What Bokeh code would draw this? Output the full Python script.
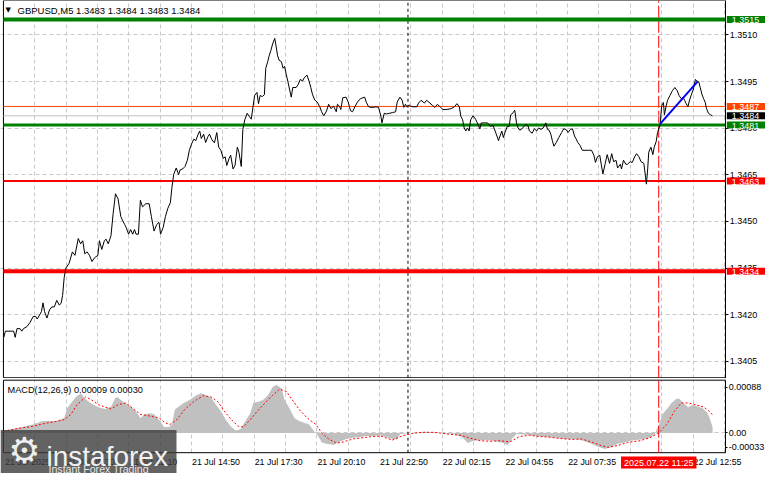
from bokeh.plotting import figure
from bokeh.models import (Range1d, FixedTicker, Label, BoxAnnotation,
                          PrintfTickFormatter, Grid)
from bokeh.layouts import column
from bokeh.embed import file_html
from bokeh.resources import INLINE

FONT = "Liberation Sans"
FS = "9px"

# ---------------- data ----------------
SYMBOL_TITLE = "GBPUSD,M5  1.3483 1.3484 1.3483 1.3484"
MACD_TITLE = "MACD(12,26,9) 0.00009 0.00030"

BAR_X = [
    0.2, 1.0, 5.2, 6.0, 6.9, 8.5, 9.4, 10.2, 11.9, 13.5,
    15.2, 16.5, 17.2, 18.2, 19.4, 20.2, 21.0, 22.2, 23.5, 24.7,
    26.0, 27.2, 28.5, 29.4, 30.2, 31.0, 31.9, 33.5, 35.2, 36.5,
    38.2, 39.4, 40.5, 41.5, 42.7, 43.9, 45.2, 46.5, 48.2, 49.0,
    50.2, 51.5, 52.4, 53.5, 54.9, 56.0, 57.2, 58.5, 59.9, 60.7,
    61.9, 62.7, 63.9, 64.9, 66.0, 66.9, 67.7, 68.9, 69.9, 71.0,
    72.7, 74.4, 75.5, 76.9, 78.2, 79.4, 80.2, 81.5, 82.7, 83.9,
    85.2, 86.0, 86.9, 88.2, 89.4, 90.2, 91.5, 92.7, 93.9, 94.9,
    96.0, 97.2, 98.2, 99.4, 100.2, 101.0, 102.2, 103.2, 104.4, 105.2,
    106.4, 107.7, 108.9, 109.9, 111.0, 112.2, 113.2, 114.0, 115.2, 116.0,
    117.2, 118.2, 119.4, 120.2, 121.4, 122.2, 123.2, 124.4, 125.5, 126.5,
    127.4, 128.2, 129.4, 130.2, 131.0, 132.2, 133.2, 133.9, 134.9, 135.5,
    136.5, 137.4, 138.5, 139.0, 139.9, 140.7, 141.9, 142.7, 143.5, 144.4,
    145.2, 146.9, 147.7, 149.4, 150.5, 151.5, 152.7, 153.5, 154.9, 156.0,
    156.9, 157.7, 158.9, 160.2, 161.5, 162.4, 163.5, 164.9, 166.0, 167.2,
    168.5, 169.9, 170.5, 171.5, 172.2, 173.2, 174.9, 176.0, 177.2, 178.2,
    179.4, 180.7, 182.2, 183.5, 184.4, 185.2, 186.4, 187.7, 188.9, 190.2,
    191.5, 192.7, 193.2, 194.4, 195.5, 196.9, 198.5, 200.2, 201.0, 202.4,
    203.5, 204.4, 205.2, 206.0, 207.2, 208.5, 211.0, 211.9, 213.2, 214.9,
    216.0, 217.7, 218.9, 220.2, 221.5, 223.2, 224.4, 226.0, 228.5, 230.2,
    231.5, 232.7, 233.5, 234.4, 235.2, 236.0, 236.9, 237.7, 238.5, 239.7,
    241.0, 241.9, 243.2, 243.9, 245.2, 247.2, 248.5, 249.9, 251.0, 251.9,
    252.7, 253.5, 254.4, 255.2, 256.0, 257.2, 258.2, 258.9, 260.2, 261.0,
    261.9, 262.7, 263.5, 264.4, 266.5, 267.7, 268.5, 269.9, 271.0, 272.2,
    273.2, 274.4, 275.5, 276.9, 277.7, 278.5, 279.4, 280.2, 281.0, 282.2,
    283.5, 284.9, 286.0, 287.2, 288.2, 289.4, 290.5, 291.5, 292.2, 293.2,
    294.4, 295.5, 296.9, 298.5, 300.2, 301.4, 302.2, 303.2, 304.4, 305.2,
    306.0, 307.2, 308.2, 309.4, 310.5, 311.5, 312.7, 313.5, 314.9, 315.5,
    316.5, 317.7, 318.5, 319.9, 321.0, 322.2, 323.2, 324.4, 325.5, 326.9,
    327.7, 328.2, 328.9, 329.4, 330.5, 331.5, 332.2, 333.2, 333.9, 335.2,
    336.0, 336.9, 337.4, 338.2, 339.0, 340.2, 341.5, 342.7, 343.9, 344.9,
    346.0, 346.9, 347.7, 348.5, 349.4, 350.2, 351.0, 352.2, 353.2, 353.9,
    354.9, 355.7, 356.5, 357.4, 358.2, 358.9, 359.9, 361.0, 361.9,
]
CLOSE = [
    1.34127, 1.34147, 1.34147, 1.34127, 1.34155, 1.34155, 1.34147, 1.34155, 1.34161, 1.34174,
    1.34194, 1.34194, 1.34186, 1.34196, 1.34210, 1.34238, 1.34210, 1.34189, 1.34215, 1.34225,
    1.34225, 1.34246, 1.34231, 1.34236, 1.34262, 1.34319, 1.34350, 1.34365, 1.34402, 1.34391,
    1.34445, 1.34428, 1.34438, 1.34396, 1.34402, 1.34391, 1.34371, 1.34383, 1.34391, 1.34438,
    1.34410, 1.34438, 1.34443, 1.34428, 1.34454, 1.34526, 1.34589, 1.34573, 1.34516, 1.34505,
    1.34490, 1.34480, 1.34459, 1.34474, 1.34459, 1.34474, 1.34459, 1.34459, 1.34568, 1.34547,
    1.34557, 1.34557, 1.34516, 1.34469, 1.34490, 1.34497, 1.34459, 1.34480, 1.34516, 1.34542,
    1.34560, 1.34609, 1.34651, 1.34672, 1.34651, 1.34666, 1.34669, 1.34677, 1.34697, 1.34729,
    1.34749, 1.34765, 1.34760, 1.34781, 1.34791, 1.34767, 1.34781, 1.34754, 1.34773, 1.34781,
    1.34763, 1.34753, 1.34786, 1.34739, 1.34729, 1.34703, 1.34708, 1.34680, 1.34703, 1.34713,
    1.34669, 1.34680, 1.34739, 1.34723, 1.34677, 1.34796, 1.34827, 1.34848, 1.34838, 1.34829,
    1.34869, 1.34905, 1.34915, 1.34879, 1.34905, 1.34902, 1.34908, 1.34993, 1.35014, 1.35030,
    1.35050, 1.35071, 1.35089, 1.35071, 1.35035, 1.35019, 1.35014, 1.34993, 1.34999, 1.34972,
    1.34950, 1.34900, 1.34931, 1.34931, 1.34941, 1.34957, 1.34952, 1.34962, 1.34971, 1.34952,
    1.34931, 1.34910, 1.34891, 1.34884, 1.34869, 1.34853, 1.34840, 1.34855, 1.34877, 1.34863,
    1.34871, 1.34853, 1.34877, 1.34871, 1.34860, 1.34898, 1.34900, 1.34884, 1.34856, 1.34853,
    1.34869, 1.34884, 1.34895, 1.34898, 1.34900, 1.34884, 1.34869, 1.34867, 1.34867, 1.34869,
    1.34867, 1.34838, 1.34817, 1.34848, 1.34846, 1.34848, 1.34850, 1.34853, 1.34884, 1.34900,
    1.34890, 1.34867, 1.34877, 1.34869, 1.34874, 1.34869, 1.34869, 1.34881, 1.34890, 1.34881,
    1.34890, 1.34881, 1.34874, 1.34867, 1.34877, 1.34867, 1.34860, 1.34860, 1.34863, 1.34869,
    1.34879, 1.34869, 1.34838, 1.34827, 1.34801, 1.34791, 1.34801, 1.34791, 1.34827, 1.34840,
    1.34829, 1.34817, 1.34798, 1.34817, 1.34817, 1.34817, 1.34806, 1.34809, 1.34791, 1.34775,
    1.34760, 1.34775, 1.34791, 1.34770, 1.34786, 1.34806, 1.34806, 1.34843, 1.34850, 1.34858,
    1.34817, 1.34801, 1.34794, 1.34796, 1.34812, 1.34809, 1.34791, 1.34784, 1.34798, 1.34791,
    1.34801, 1.34796, 1.34801, 1.34817, 1.34796, 1.34794, 1.34781, 1.34760, 1.34742, 1.34754,
    1.34770, 1.34786, 1.34798, 1.34796, 1.34786, 1.34796, 1.34798, 1.34775, 1.34767, 1.34754,
    1.34744, 1.34729, 1.34729, 1.34729, 1.34729, 1.34713, 1.34690, 1.34708, 1.34713, 1.34682,
    1.34653, 1.34687, 1.34715, 1.34687, 1.34718, 1.34692, 1.34697, 1.34672, 1.34684, 1.34669,
    1.34697, 1.34684, 1.34684, 1.34692, 1.34690, 1.34708, 1.34718, 1.34708, 1.34692, 1.34687,
    1.34646, 1.34620, 1.34672, 1.34723, 1.34739, 1.34715, 1.34739, 1.34757, 1.34786, 1.34812,
    1.34872, 1.34883, 1.34843, 1.34869, 1.34890, 1.34905, 1.34921, 1.34931, 1.34921, 1.34905,
    1.34895, 1.34900, 1.34890, 1.34879, 1.34869, 1.34890, 1.34905, 1.34926, 1.34957, 1.34952,
    1.34950, 1.34931, 1.34910, 1.34895, 1.34884, 1.34863, 1.34848, 1.34843, 1.34840,
]

MACD_X = [
    0.2, 8.5, 15, 20, 27, 31, 32.5, 34.5, 37, 39.5, 41.5, 43.5, 46, 48.5, 52, 55, 57, 58, 60, 62,
    65, 67.5, 70, 72, 74.5, 77, 78.5, 80, 82, 84.5, 86, 87.5, 89.5, 92, 95, 98.5, 101, 103.5, 106, 108.5,
    111, 113.5, 116, 118.5, 121, 123.5, 126, 127.5, 130, 132.5, 135, 137.5, 139.5, 142, 143.5, 146, 148.5, 151, 153.5, 156,
    158.5, 160, 162.5, 165, 168.5, 172, 175, 178.5, 182, 185, 188.5, 192.5, 198.5, 201, 202.5, 206, 210, 215, 220, 225,
    230, 234.5, 237, 240, 245, 250, 255, 257.5, 260, 262, 267, 272, 277, 282, 287, 292, 296, 300, 303.5, 307,
    310, 313.5, 317, 320, 323.5, 327, 330, 332.5, 335, 336.5, 338.5, 341, 343.5, 345, 347, 349.5, 352, 354.5, 357, 359.5,
    361, 362,
]
MACD_MAIN = [
    0.00003, 0.00009, 0.00014, 0.00020, 0.00020, 0.00025, 0.00041, 0.00050, 0.00060, 0.00066,
    0.00058, 0.00052, 0.00047, 0.00043, 0.00040, 0.00044, 0.00058, 0.00060, 0.00055, 0.00050,
    0.00044, 0.00036, 0.00025, 0.00031, 0.00033, 0.00031, 0.00025, 0.00020, 0.00010, 0.00010,
    0.00014, 0.00039, 0.00044, 0.00050, 0.00055, 0.00063, 0.00066, 0.00063, 0.00059, 0.00047,
    0.00036, 0.00022, 0.00011, 0.00004, 0.00006, 0.00020, 0.00033, 0.00050, 0.00052, 0.00055,
    0.00063, 0.00077, 0.00080, 0.00074, 0.00055, 0.00041, 0.00025, 0.00020, 0.00017, 0.00014,
    0.00003, -0.00002, -0.00016, -0.00018, -0.00020, -0.00014, -0.00010, -0.00008, -0.00007, -0.00005,
    -0.00005, -0.00004, -0.00010, -0.00011, -0.00002, -0.00001, 0.00000, 0.00002, 0.00001, -0.00001,
    -0.00002, -0.00008, -0.00017, -0.00013, -0.00012, -0.00013, -0.00017, -0.00020, -0.00008, -0.00002,
    -0.00003, -0.00005, -0.00007, -0.00008, -0.00010, -0.00010, -0.00013, -0.00018, -0.00023, -0.00027,
    -0.00024, -0.00018, -0.00016, -0.00013, -0.00012, -0.00010, -0.00008, -0.00002, 0.00017, 0.00032,
    0.00039, 0.00050, 0.00057, 0.00057, 0.00050, 0.00043, 0.00047, 0.00044, 0.00041, 0.00033,
    0.00020, 0.00009,
]
SIGNAL_X = [
    0, 8.5, 15, 20, 25, 31, 34.5, 37.5, 42, 45, 48.5, 52, 55, 58.5, 62.5, 66, 70, 75, 79.5, 82.5,
    85, 88.5, 92.5, 97, 102, 106, 109.5, 113.5, 117, 120, 122.5, 126, 129.5, 133.5, 137.5, 141, 144.5, 147.5, 151, 155,
    159.5, 162.5, 166, 170, 173.5, 178.5, 183.5, 188.5, 192.5, 198.5, 203.5, 208.5, 213.5, 220, 227, 233.5, 238.5, 243.5, 248.5, 253.5,
    258.5, 263.5, 268.5, 273.5, 278.5, 283.5, 290, 295, 300, 305, 308.5, 313.5, 318.5, 325, 330, 334.5, 338.5, 342.5, 346, 349.5,
    353.5, 357.5, 360, 362,
]
MACD_SIGNAL = [
    0.00003, 0.00008, 0.00011, 0.00015, 0.00018, 0.00022, 0.00031, 0.00047, 0.00060, 0.00055,
    0.00047, 0.00043, 0.00040, 0.00047, 0.00050, 0.00041, 0.00031, 0.00028, 0.00025, 0.00017,
    0.00014, 0.00022, 0.00039, 0.00052, 0.00062, 0.00060, 0.00052, 0.00033, 0.00020, 0.00011,
    0.00010, 0.00022, 0.00036, 0.00050, 0.00063, 0.00073, 0.00069, 0.00055, 0.00039, 0.00025,
    0.00014, 0.00000, -0.00010, -0.00017, -0.00015, -0.00010, -0.00008, -0.00006, -0.00005, -0.00012,
    -0.00005, -0.00001, 0.00001, 0.00001, -0.00002, -0.00004, -0.00009, -0.00013, -0.00014, -0.00013,
    -0.00015, -0.00006, -0.00004, -0.00006, -0.00007, -0.00009, -0.00011, -0.00010, -0.00015, -0.00021,
    -0.00024, -0.00021, -0.00016, -0.00013, -0.00008, 0.00000, 0.00014, 0.00036, 0.00050, 0.00050,
    0.00047, 0.00043, 0.00037, 0.00030,
]

PRICE_TICKS = [1.3405, 1.3420, 1.3435, 1.3450, 1.3465, 1.3480, 1.3495, 1.3510]
LEVEL_PRICES = [1.3515, 1.3487, 1.3484, 1.3481, 1.3463, 1.3434]
LEVEL_COLORS = ["#008000", "#FF4500", "#C0C0C0", "#008000", "#FF0000", "#FF0000"]
LEVEL_WIDTHS = [4, 1, 1, 3, 2, 4]
TAG_PRICES = [1.3515, 1.3487, 1.3481, 1.3463, 1.3434, 1.3484]
TAG_COLORS = ["#008000", "#FF4500", "#008000", "#FF0000", "#FF0000", "#000000"]

TREND_X = [335.2, 354.3]
TREND_Y = [1.34814, 1.34950]

TIME_TICK_BARS = [0, 32, 64, 96, 128, 160, 192, 224, 256, 288, 320, 352]
TIME_LABELS = ["21 Jul 2025", "21 Jul 09:30", "21 Jul 12:10", "21 Jul 14:50",
               "21 Jul 17:30", "21 Jul 20:10", "21 Jul 22:50", "22 Jul 02:15",
               "22 Jul 04:55", "22 Jul 07:35", "22 Jul 10:15", "22 Jul 12:55"]
GRID_BARS = list(range(16, 369, 16))
DAY_SEPARATOR_BAR = 206.5
CURRENT_TIME_BAR = 334.5
CURRENT_TIME_LABEL = "2025.07.22 11:25"

MACD_LOW, MACD_HIGH = -0.00033, 0.00088
MACD_TICK_LABELS = ["-0.00033", "0.00", "0.00088"]

# ---------------- layout ----------------
W = 765
X0, X1 = -1.5, 389.0          # bar span across the whole canvas width
SCALE_X = 368.75              # bar position of the price scale line
PRICE_LOW, PRICE_HIGH = 1.339946, 1.35211
PRICE_BOTTOM = 1.33997        # bottom edge of the price window
GRID_COLOR = "#C8C8C8"
x_range = Range1d(X0, X1)


def common(p):
    p.background_fill_color = "white"
    p.border_fill_color = "white"
    p.outline_line_color = None
    p.grid.visible = False
    p.add_layout(Grid(dimension=0, ticker=FixedTicker(ticks=GRID_BARS),
                      grid_line_color=GRID_COLOR, grid_line_dash="4 3"))


def style_yaxis(ax, tick_out):
    ax.fixed_location = SCALE_X
    ax.axis_line_color = "black"
    ax.major_tick_line_color = "black"
    ax.major_tick_out = tick_out
    ax.major_tick_in = 0
    ax.minor_tick_line_color = None
    ax.major_label_text_font = FONT
    ax.major_label_text_font_size = FS
    ax.major_label_text_color = "black"
    ax.major_label_standoff = 1


def cover(p, **kw):
    p.add_layout(BoxAnnotation(fill_color="white", fill_alpha=1, line_color=None,
                               level="underlay", **kw))


def frame_lines(p, lo, hi):
    # window border (left, bottom/top) and the two vertical markers
    p.segment(x0=[0, 0, 0], y0=[lo, lo, hi], x1=[0, SCALE_X, SCALE_X], y1=[hi, lo, hi],
              line_color="black", line_width=1)
    p.segment(x0=[DAY_SEPARATOR_BAR], y0=[lo], x1=[DAY_SEPARATOR_BAR], y1=[hi],
              line_color="black", line_dash="3 3", line_width=1)
    p.segment(x0=[CURRENT_TIME_BAR], y0=[lo], x1=[CURRENT_TIME_BAR], y1=[hi],
              line_color="#FF0000", line_dash="12 3", line_width=1)


# ---- main price window ----
p1 = figure(frame_width=W, frame_height=378, x_range=x_range,
            y_range=Range1d(PRICE_LOW, PRICE_HIGH),
            x_axis_location=None, y_axis_location="right",
            toolbar_location=None, tools="", output_backend="svg",
            min_border_left=0, min_border_right=0, min_border_top=0, min_border_bottom=0)
common(p1)
style_yaxis(p1.yaxis[0], 3)
p1.yaxis[0].ticker = FixedTicker(ticks=PRICE_TICKS)
p1.yaxis[0].formatter = PrintfTickFormatter(format="%.4f")
p1.add_layout(Grid(dimension=1, ticker=FixedTicker(ticks=PRICE_TICKS),
                   grid_line_color=GRID_COLOR, grid_line_dash="4 3"))
cover(p1, left=SCALE_X)

frame_lines(p1, PRICE_BOTTOM, PRICE_HIGH)
p1.segment(x0=[0] * len(LEVEL_PRICES), y0=LEVEL_PRICES,
           x1=[SCALE_X] * len(LEVEL_PRICES), y1=LEVEL_PRICES,
           line_color=LEVEL_COLORS, line_width=LEVEL_WIDTHS)
p1.line(BAR_X, CLOSE, line_color="black", line_width=1)
p1.line(TREND_X, TREND_Y, line_color="#0000FF", line_width=2)

for tp, tc in zip(TAG_PRICES, TAG_COLORS):
    p1.add_layout(Label(x=SCALE_X, y=tp, x_offset=1,
                        text=f"{tp:.4f}", text_color="white",
                        text_font=FONT, text_font_size=FS,
                        text_align="left", text_baseline="middle",
                        background_fill_color=tc, background_fill_alpha=1,
                        padding=dict(left=5, right=6, top=1, bottom=0)))

p1.add_layout(Label(x=5, x_units="screen", y=368.3, y_units="screen",
                    text="\u25BC", text_font="DejaVu Sans", text_font_size="7px",
                    text_color="black", text_baseline="middle"))
p1.add_layout(Label(x=17, x_units="screen", y=368.3, y_units="screen",
                    text=SYMBOL_TITLE, text_font=FONT, text_font_size="9.5px",
                    text_color="black", text_baseline="middle"))

# ---- MACD window ----
p2 = figure(frame_width=W, frame_height=95, x_range=x_range,
            y_range=Range1d(-0.000677, 0.000908),
            x_axis_location="below", y_axis_location="right",
            toolbar_location=None, tools="", output_backend="svg",
            min_border_left=0, min_border_right=0, min_border_top=0, min_border_bottom=0)
common(p2)
style_yaxis(p2.yaxis[0], 2)
p2.yaxis[0].bounds = (MACD_LOW, MACD_HIGH)
macd_tick_pos = [-0.000237, 0, 0.000759]
p2.yaxis[0].ticker = FixedTicker(ticks=macd_tick_pos)
p2.yaxis[0].major_label_overrides = dict(zip(macd_tick_pos, MACD_TICK_LABELS))
p2.add_layout(Grid(dimension=1, ticker=FixedTicker(ticks=[0]),
                   grid_line_color=GRID_COLOR, grid_line_dash="4 3"))
cover(p2, top=MACD_LOW)
cover(p2, bottom=MACD_HIGH)
cover(p2, left=SCALE_X)

label_offset = 12.5  # time labels start at their bar, as in the terminal
xt = [b + label_offset for b in TIME_TICK_BARS]
xa = p2.xaxis[0]
xa.fixed_location = MACD_LOW
xa.ticker = FixedTicker(ticks=xt)
xa.major_label_overrides = dict(zip(xt, TIME_LABELS))
xa.axis_line_color = None
xa.major_tick_line_color = None
xa.major_tick_out = 0
xa.major_tick_in = 0
xa.minor_tick_line_color = None
xa.major_label_text_font = FONT
xa.major_label_text_font_size = "8.8px"
xa.major_label_text_color = "black"
xa.major_label_standoff = 4

p2.varea(x=MACD_X, y1=0, y2=MACD_MAIN, fill_color="#C0C0C0")
frame_lines(p2, MACD_LOW, MACD_HIGH)
p2.line(SIGNAL_X, MACD_SIGNAL, line_color="#FF0000", line_dash="2 2", line_width=1)

p2.add_layout(Label(x=7, x_units="screen", y=84, y_units="screen",
                    text=MACD_TITLE, text_font=FONT, text_font_size="9.2px",
                    text_color="black", text_baseline="middle"))

p2.add_layout(Label(x=CURRENT_TIME_BAR, x_units="data", y=11, y_units="screen",
                    text=CURRENT_TIME_LABEL, text_color="white",
                    text_font=FONT, text_font_size=FS,
                    text_align="center", text_baseline="middle",
                    background_fill_color="#FF0000", background_fill_alpha=1,
                    padding=dict(left=3, right=3, top=1, bottom=1)))

# watermark logo
p2.add_layout(BoxAnnotation(left=0, right=176, bottom=0, top=43.5,
                            left_units="screen", right_units="screen",
                            top_units="screen", bottom_units="screen",
                            fill_color="#3C3C3C", fill_alpha=0.8,
                            line_color=None, level="overlay"))
p2.add_layout(Label(x=24, x_units="screen", y=23, y_units="screen",
                    text="\u2699", text_font="DejaVu Sans", text_font_size="36px",
                    text_color="#EEEEEE", text_align="center", text_baseline="middle",
                    level="overlay"))
p2.add_layout(Label(x=46, x_units="screen", y=16.7, y_units="screen",
                    text="instaforex", text_font=FONT, text_font_size="28px",
                    text_color="#F2F2F2", text_baseline="alphabetic", level="overlay"))
p2.add_layout(Label(x=48, x_units="screen", y=5, y_units="screen",
                    text="Instant Forex Trading", text_font=FONT, text_font_size="10.6px",
                    text_color="#E6E6E6", text_baseline="alphabetic", level="overlay"))

layout = column(p1, p2, spacing=0)
open("out.html", "w").write(file_html(layout, INLINE, title="GBPUSD M5"))
